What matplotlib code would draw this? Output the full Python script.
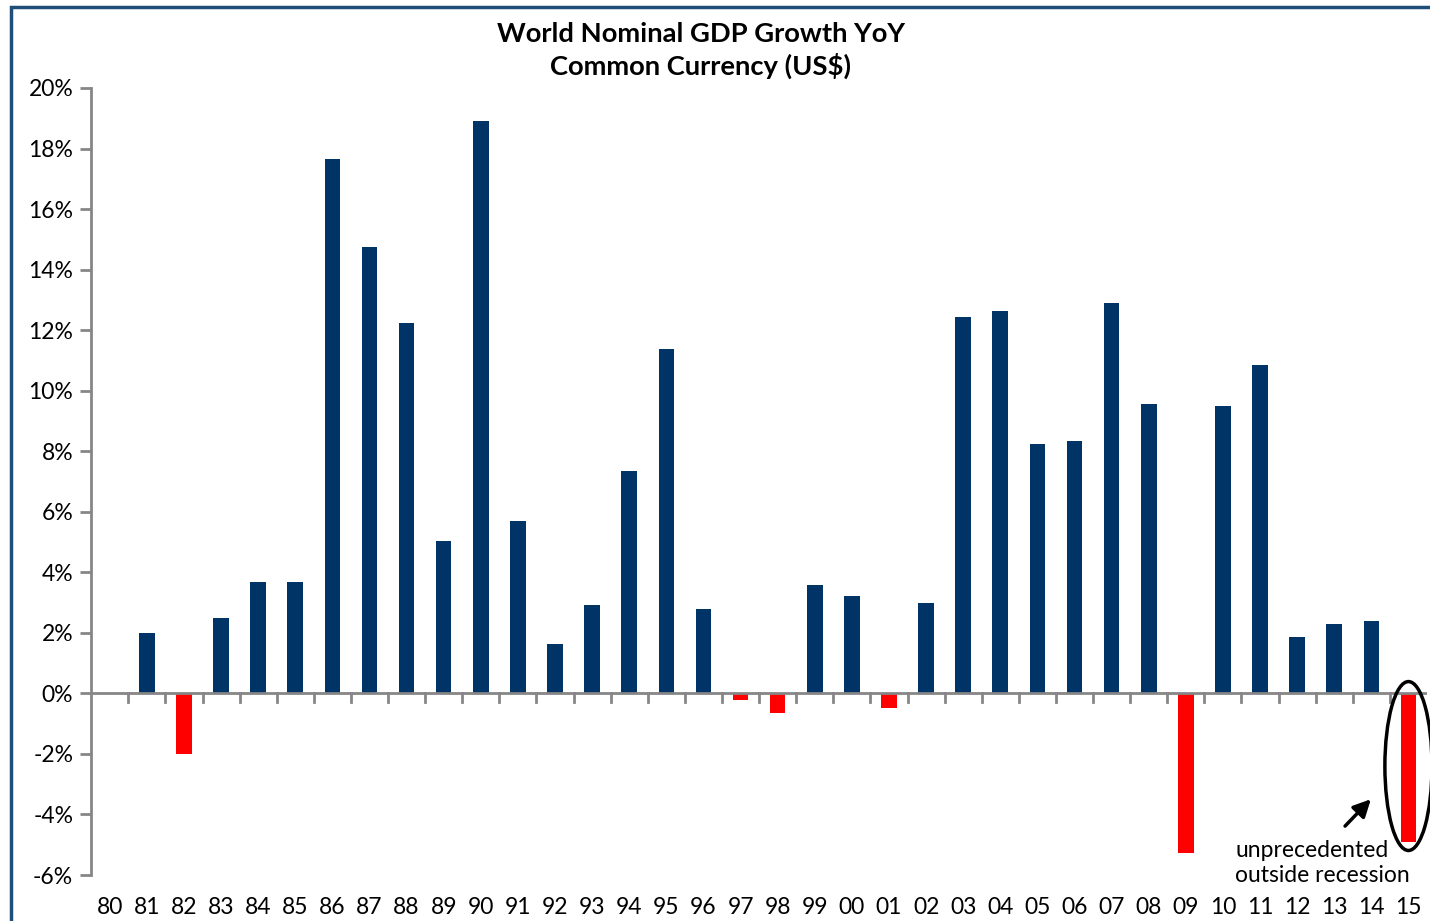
import matplotlib.pyplot as plt
from matplotlib.patches import Ellipse, Rectangle

# years and YoY growth (%)
years = ['80', '81', '82', '83', '84', '85', '86', '87', '88', '89',
         '90', '91', '92', '93', '94', '95', '96', '97', '98', '99',
         '00', '01', '02', '03', '04', '05', '06', '07', '08', '09',
         '10', '11', '12', '13', '14', '15']
growth = [0.0, 2.0, -2.0, 2.48, 3.67, 3.67, 17.65, 14.74, 12.23, 5.02,
          18.9, 5.69, 1.62, 2.91, 7.34, 11.37, 2.78, -0.22, -0.64, 3.57,
          3.23, -0.47, 2.99, 12.43, 12.63, 8.23, 8.33, 12.89, 9.55, -5.28,
          9.49, 10.84, 1.85, 2.28, 2.38, -4.9]

plt.rcParams['font.family'] = ['Lato', 'DejaVu Sans']

fig = plt.figure(figsize=(14.3, 9.21), dpi=100)
ax = fig.add_axes([91.2 / 1430, 1 - 875 / 921, (1427 - 91.2) / 1430, (875 - 88) / 921])

x = list(range(len(years)))
colors = ['#003366' if v >= 0 else '#ff0000' for v in growth]
ax.bar(x, growth, width=0.42, color=colors, zorder=2)

ax.set_xlim(-0.5, len(years) - 0.5)
ax.set_ylim(-6, 20)
ax.set_yticks(range(-6, 21, 2))
ax.set_yticklabels([f'{v}%' for v in range(-6, 21, 2)], fontsize=16.5)

# category labels along the bottom, ticks on the zero line at boundaries
ax.set_xticks([])
for i, lab in enumerate(years):
    ax.text(i, -6.72, lab, ha='center', va='top', fontsize=16.5)
ax.axhline(0, color='#868686', lw=2, zorder=3)
for b in range(1, len(years)):
    ax.plot([b - 0.5, b - 0.5], [0, -0.3], color='#868686', lw=2, zorder=3,
            clip_on=False)

for s in ['top', 'right', 'bottom']:
    ax.spines[s].set_visible(False)
ax.spines['left'].set_color('#868686')
ax.spines['left'].set_linewidth(2)
ax.tick_params(axis='y', length=8, width=2, color='#868686', pad=5)

fig.text(701 / 1430, 1 - 50.5 / 921,
         'World Nominal GDP Growth YoY\nCommon Currency (US$)',
         ha='center', va='center', fontsize=19.7, fontweight='bold',
         linespacing=1.33)

# annotation on the last bar
ax.add_patch(Ellipse((35, -2.4), 1.27, 5.58, fill=False, ec='black', lw=2.5,
                     clip_on=False, zorder=4))
ax.annotate('', xy=(34.04, -3.43), xytext=(33.24, -4.45),
            arrowprops=dict(arrowstyle='-|>', color='black', lw=2.5,
                            mutation_scale=26))
ax.text(30.33, -5.6, 'unprecedented\noutside recession', ha='left',
        va='center', fontsize=16.5, linespacing=1.2)

# outer chart frame
fig.patches.append(Rectangle((11 / 1430, -0.1), 1.2, 1 - 7 / 921 + 0.1,
                             transform=fig.transFigure, fill=False,
                             ec='#1f4e79', lw=2.5))

fig.savefig('out.png', dpi=100)
